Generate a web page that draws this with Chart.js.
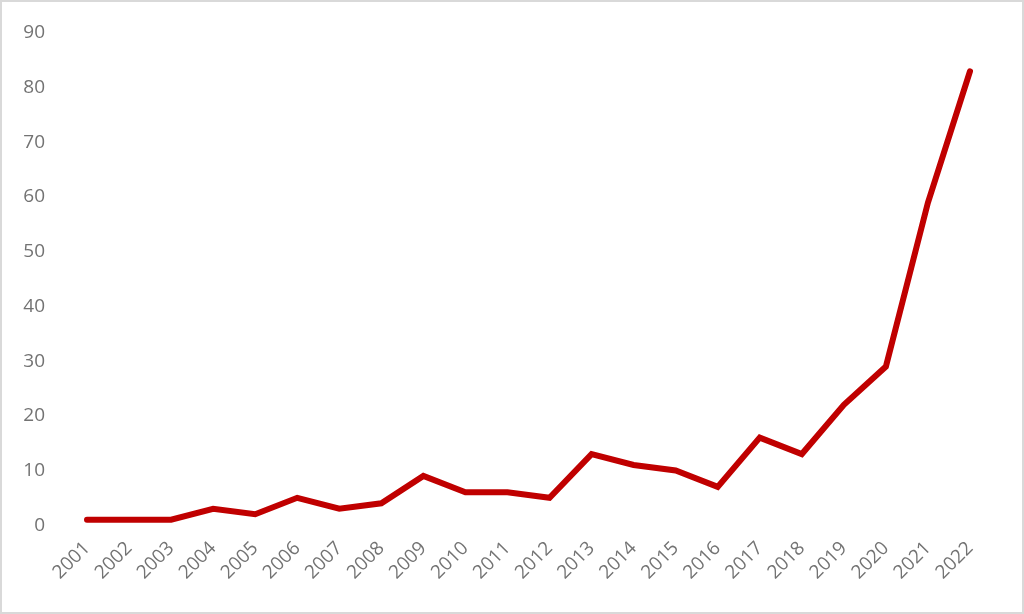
<!DOCTYPE html>
<html>
<head>
<meta charset="utf-8">
<script src="https://cdn.jsdelivr.net/npm/chart.js@4"></script>
<style>
  html, body { margin: 0; padding: 0; background: #fff; }
  #wrap {
    width: 1024px; height: 614px; box-sizing: border-box;
    border: 2px solid #d9d9d9; position: relative;
  }
</style>
</head>
<body>
<div id="wrap"><canvas id="chart"></canvas></div>
<script>
const years = ["2001", "2002", "2003", "2004", "2005", "2006", "2007", "2008", "2009", "2010", "2011",
  "2012", "2013", "2014", "2015", "2016", "2017", "2018", "2019", "2020", "2021", "2022"];
const counts = [1, 1, 1, 3, 2, 5, 3, 4, 9, 6, 6, 5, 13, 11, 10, 7, 16, 13, 22, 29, 59, 83];

const ctx = document.getElementById("chart");
var myChart = new Chart(ctx, {
  type: "line",
  data: {
    labels: years,
    datasets: [
      {
        data: counts,
        borderColor: "#c00000",
        borderWidth: 6,
        pointRadius: 0,
        borderCapStyle: "round",
        borderJoinStyle: "miter",
        tension: 0,
      },
    ],
  },
  options: {
    responsive: true,
    maintainAspectRatio: false,
    animation: false,
    layout: { padding: { top: 31, right: 52, bottom: 16, left: 0 } },
    plugins: { legend: { display: false }, tooltip: { enabled: false } },
    scales: {
      x: {
        grid: { display: false, drawTicks: false },
        border: { display: false },
        ticks: {
          color: "#737373",
          font: { family: "Open Sans", size: 19 },
          minRotation: 45,
          maxRotation: 45,
          padding: 12,
          autoSkip: false,
        },
      },
      y: {
        min: 0,
        max: 90,
        grid: { display: false, drawTicks: false },
        border: { display: false },
        // fixed axis width; drop the tick padding from the top/bottom reserve
        afterFit: (scale) => {
          scale.width = 85;
          scale.paddingTop = 0;
          scale.paddingBottom = 0;
        },
        ticks: {
          stepSize: 10,
          color: "#737373",
          font: { family: "Open Sans", size: 19 },
          padding: 42,
        },
      },
    },
  },
});
</script>
</body>
</html>
